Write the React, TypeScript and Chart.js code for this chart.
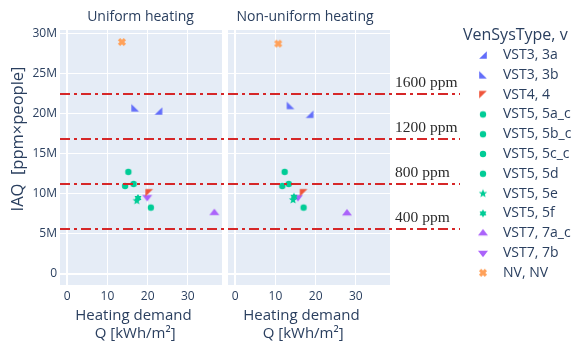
import React, { useEffect, useRef } from 'react';
import { Chart, registerables } from 'chart.js';
Chart.register(...registerables);

const seriesLabels = ['VST3, 3a', 'VST3, 3b', 'VST4, 4', 'VST5, 5a_c', 'VST5, 5b_c', 'VST5, 5c_c', 'VST5, 5d', 'VST5, 5e', 'VST5, 5f', 'VST7, 7a_c', 'VST7, 7b', 'NV, NV'];
const seriesSymbols = ['triangle-se', 'triangle-sw', 'triangle-nw', 'circle', 'circle', 'circle', 'circle', 'star', 'hexagram', 'triangle-up', 'triangle-down', 'x'];
const seriesColors = ['#636EFA', '#636EFA', '#EF553B', '#00CC96', '#00CC96', '#00CC96', '#00CC96', '#00CC96', '#00CC96', '#AB63FA', '#AB63FA', '#FFA15A'];

// Heating demand Q [kWh/m²]
const uniformQ = [22.7, 16.9, 20.4, 15.2, 14.4, 16.5, 20.8, 17.3, 17.6, 36.6, 19.9, 13.6];
// IAQ in millions of ppm×people
const uniformIAQ = [20.3, 20.7, 10.1, 12.7, 10.95, 11.2, 8.25, 9.1, 9.45, 7.6, 9.55, 28.9];
const nonUniformQ = [18.5, 13.75, 17.0, 12.3, 11.7, 13.3, 17.0, 14.4, 14.6, 27.8, 15.6, 10.7];
const nonUniformIAQ = [19.9, 21.0, 10.1, 12.7, 10.95, 11.2, 8.25, 9.2, 9.6, 7.55, 9.55, 28.7];

const panelTitles = ['Uniform heating', 'Non-uniform heating'];
const thresholdValues = [5.6, 11.2, 16.8, 22.4];
const thresholdLabels = ['400 ppm', '800 ppm', '1200 ppm', '1600 ppm'];
const xTitleLines = ['Heating demand\u2002\u2002', 'Q [kWh/m\u00b2]   '];
const yTitle = 'IAQ  [ppm\u00d7people]';
const legendTitle = 'VenSysType, v';

const TEXT = '#2a3f5f';
const FONT = '"Open Sans", sans-serif';

function makeMarker(symbol: string, color: string): HTMLCanvasElement {
  const S = 14;
  const c = document.createElement('canvas');
  c.width = S;
  c.height = S;
  const g = c.getContext('2d')!;
  g.translate(S / 2, S / 2);
  g.fillStyle = color;
  g.beginPath();
  const r = 3.2;
  const rs = r * 1.2;
  const rtr = r * 1.35;
  const rt = (rtr * 2) / Math.sqrt(3);
  const poly = (pts: number[][]) => {
    pts.forEach((p, i) => (i === 0 ? g.moveTo(p[0], p[1]) : g.lineTo(p[0], p[1])));
  };
  const starPoly = (n: number, outer: number, inner: number) => {
    const pts: number[][] = [];
    for (let k = 0; k < n * 2; k++) {
      const a = -Math.PI / 2 + (k * Math.PI) / n;
      const rr = k % 2 === 0 ? outer : inner;
      pts.push([Math.cos(a) * rr, Math.sin(a) * rr]);
    }
    poly(pts);
  };
  switch (symbol) {
    case 'circle':
      g.arc(0, 0, r, 0, Math.PI * 2);
      break;
    case 'triangle-up':
      poly([[-rt, rtr / 2], [rt, rtr / 2], [0, -rtr]]);
      break;
    case 'triangle-down':
      poly([[-rt, -rtr / 2], [rt, -rtr / 2], [0, rtr]]);
      break;
    case 'triangle-se':
      poly([[rs, -rs], [rs, rs], [-rs, rs]]);
      break;
    case 'triangle-sw':
      poly([[-rs, -rs], [-rs, rs], [rs, rs]]);
      break;
    case 'triangle-nw':
      poly([[-rs, rs], [-rs, -rs], [rs, -rs]]);
      break;
    case 'star':
      starPoly(5, r * 1.4, r * 0.6);
      break;
    case 'hexagram':
      starPoly(6, r * 1.25, r * 0.75);
      break;
    case 'x': {
      g.rotate(Math.PI / 4);
      const w = r * 0.5;
      const L = r * 1.3;
      poly([[-w, -L], [w, -L], [w, -w], [L, -w], [L, w], [w, w], [w, L], [-w, L], [-w, w], [-L, w], [-L, -w], [-w, -w]]);
      break;
    }
  }
  g.closePath();
  g.fill();
  return c;
}

export default function App() {
  const ref = useRef<HTMLCanvasElement>(null);
  useEffect(() => {
    const canvas = ref.current!;
    Chart.defaults.font.family = FONT;
    Chart.defaults.color = TEXT;
    const markers = seriesSymbols.map((s, i) => makeMarker(s, seriesColors[i]));
    const datasets: any[] = [];
    seriesLabels.forEach((label, i) => {
      datasets.push({
        label,
        data: [{ x: uniformQ[i], y: uniformIAQ[i] }],
        xAxisID: 'x',
        yAxisID: 'y',
        pointStyle: markers[i],
        pointRadius: 4,
        backgroundColor: seriesColors[i],
        borderColor: seriesColors[i],
      });
      datasets.push({
        label,
        data: [{ x: nonUniformQ[i], y: nonUniformIAQ[i] }],
        xAxisID: 'x2',
        yAxisID: 'y',
        pointStyle: markers[i],
        pointRadius: 4,
        backgroundColor: seriesColors[i],
        borderColor: seriesColors[i],
      });
    });

    const gridWidth = (ctx: any) => (ctx.tick && ctx.tick.value === 0 ? 2 : 1);
    const xAxis = (weight: number) => ({
      type: 'linear',
      axis: 'x',
      position: 'bottom',
      stack: 'q',
      stackWeight: weight,
      min: -1.8,
      max: 38.5,
      ticks: { stepSize: 10, includeBounds: false, padding: 4, font: { size: 12 }, color: TEXT, maxRotation: 0, autoSkip: false },
      grid: { color: '#ffffff', lineWidth: gridWidth, drawTicks: false },
      border: { display: false },
      title: { display: true, text: xTitleLines, font: { size: 15, lineHeight: 1.15 }, color: TEXT, padding: { top: 0, bottom: 2 } },
      afterFit: (s: any) => {
        s.height = 59;
      },
    });

    const plugin = {
      id: 'facetDecor',
      beforeDraw(chart: any) {
        const { ctx, chartArea, scales } = chart;
        ctx.save();
        ctx.fillStyle = '#E5ECF6';
        for (const id of ['x', 'x2']) {
          const s = scales[id];
          ctx.fillRect(s.left, chartArea.top, s.width, chartArea.height);
        }
        ctx.restore();
      },
      afterDatasetsDraw(chart: any) {
        const { ctx, chartArea, scales } = chart;
        ctx.save();
        ctx.strokeStyle = 'rgb(214,39,40)';
        ctx.lineWidth = 2;
        ctx.setLineDash([10, 4, 3, 4]);
        const xEnd = chartArea.right + 70;
        thresholdValues.forEach((v) => {
          const py = Math.round(scales.y.getPixelForValue(v));
          ctx.beginPath();
          ctx.moveTo(chartArea.left, py);
          ctx.lineTo(xEnd, py);
          ctx.stroke();
        });
        ctx.setLineDash([]);
        ctx.fillStyle = '#2b2b2b';
        ctx.font = '15.5px "Liberation Serif", serif';
        ctx.textAlign = 'left';
        ctx.textBaseline = 'middle';
        thresholdValues.forEach((v, i) => {
          const py = scales.y.getPixelForValue(v);
          ctx.fillText(thresholdLabels[i], chartArea.right + 5, py - 11);
        });
        ctx.restore();
      },
      afterDraw(chart: any) {
        const { ctx, chartArea, scales } = chart;
        ctx.save();
        ctx.fillStyle = TEXT;
        ctx.textBaseline = 'middle';
        ctx.font = '14px ' + FONT;
        ctx.textAlign = 'center';
        const sx = scales.x;
        const sx2 = scales.x2;
        ctx.fillText(panelTitles[0], sx.left + sx.width / 2 - 0.5, 17);
        ctx.fillText(panelTitles[1], sx2.left + sx2.width / 2 - 4, 17);
        ctx.save();
        ctx.font = '16.5px ' + FONT;
        ctx.translate(18, 139);
        ctx.rotate(-Math.PI / 2);
        ctx.fillText(yTitle, 0, 0);
        ctx.restore();
        ctx.textAlign = 'left';
        ctx.font = '16px ' + FONT;
        const lx = chartArea.right + 73;
        ctx.fillText(legendTitle, lx, 35);
        ctx.font = '14px ' + FONT;
        seriesLabels.forEach((label, i) => {
          const yy = 55 + i * 19.8;
          const m = markers[i];
          ctx.drawImage(m, lx + 20 - m.width / 2, yy - m.height / 2);
          ctx.fillText(label, lx + 40, yy);
        });
        ctx.restore();
      },
    };

    const chart = new Chart(canvas, {
      type: 'scatter',
      data: { datasets },
      options: {
        animation: false,
        responsive: false,
        maintainAspectRatio: false,
        devicePixelRatio: 1,
        events: [],
        layout: { padding: { top: 30, left: 0, right: 185, bottom: 0 } },
        plugins: { legend: { display: false }, tooltip: { enabled: false }, title: { display: false } },
        scales: {
          x: xAxis(162),
          xgap: {
            type: 'linear',
            axis: 'x',
            position: 'bottom',
            stack: 'q',
            stackWeight: 6,
            display: false,
            afterFit: (s: any) => {
              s.height = 0;
            },
          },
          x2: xAxis(162),
          y: {
            type: 'linear',
            position: 'left',
            min: -1.4,
            max: 30.4,
            ticks: {
              stepSize: 5,
              includeBounds: false,
              padding: 3,
              font: { size: 12 },
              color: TEXT,
              callback: (v: any) => (v === 0 ? '0' : v + 'M'),
            },
            grid: { color: '#ffffff', lineWidth: gridWidth, drawTicks: false },
            border: { display: false },
            afterFit: (s: any) => {
              s.width = 60;
            },
          },
        } as any,
      },
      plugins: [plugin],
    } as any);
    return () => chart.destroy();
  }, []);
  return (
    <div style={{ position: 'fixed', left: 0, top: 0, width: 575, height: 344, background: '#ffffff' }}>
      <canvas ref={ref} width={575} height={344} style={{ display: 'block', width: 575, height: 344 }} />
    </div>
  );
}
